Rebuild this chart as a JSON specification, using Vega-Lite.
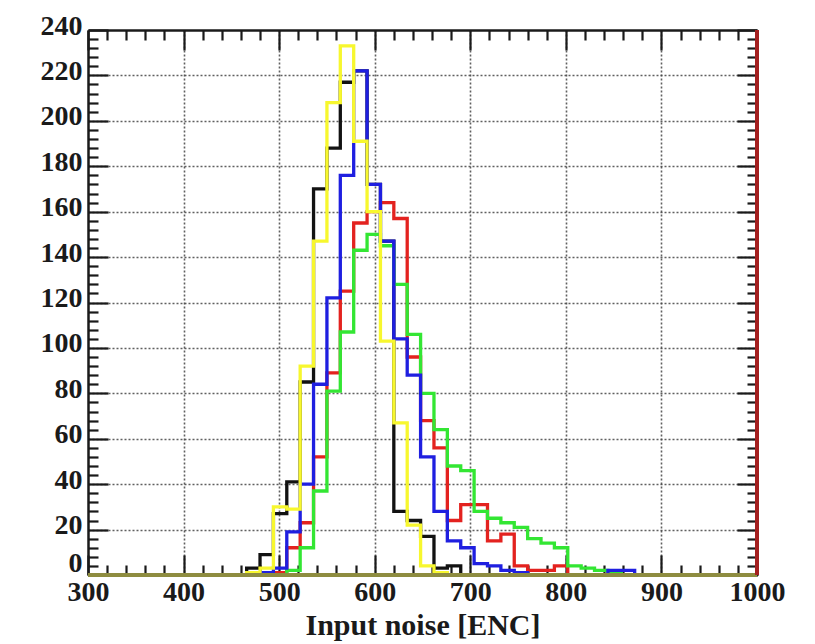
{
  "$schema": "https://vega.github.io/schema/vega-lite/v6.json",
  "width": 669,
  "height": 545,
  "autosize": {"type": "none"},
  "padding": {"left": 88, "top": 30, "right": 58, "bottom": 69},
  "background": "white",
  "config": {"view": {"stroke": null}, "font": "Liberation Serif"},
  "datasets": {
    "h": [
      {"s":"black","x":438,"n":0},{"s":"black","x":452,"n":0},{"s":"black","x":466,"n":3},{"s":"black","x":480,"n":9},{"s":"black","x":494,"n":27},{"s":"black","x":508,"n":41},{"s":"black","x":522,"n":85},{"s":"black","x":536,"n":170},{"s":"black","x":550,"n":188},{"s":"black","x":564,"n":217},{"s":"black","x":578,"n":222},{"s":"black","x":592,"n":172},{"s":"black","x":606,"n":147},{"s":"black","x":620,"n":28},{"s":"black","x":634,"n":24},{"s":"black","x":648,"n":17},{"s":"black","x":662,"n":3},{"s":"black","x":676,"n":4},{"s":"black","x":690,"n":0},{"s":"black","x":704,"n":0},
      {"s":"red","x":466,"n":0},{"s":"red","x":480,"n":0},{"s":"red","x":494,"n":1},{"s":"red","x":508,"n":12},{"s":"red","x":522,"n":23},{"s":"red","x":536,"n":52},{"s":"red","x":550,"n":89},{"s":"red","x":564,"n":125},{"s":"red","x":578,"n":155},{"s":"red","x":592,"n":160},{"s":"red","x":606,"n":164},{"s":"red","x":620,"n":157},{"s":"red","x":634,"n":96},{"s":"red","x":648,"n":68},{"s":"red","x":662,"n":56},{"s":"red","x":676,"n":24},{"s":"red","x":690,"n":31},{"s":"red","x":704,"n":31},{"s":"red","x":718,"n":15},{"s":"red","x":732,"n":18},{"s":"red","x":746,"n":4},{"s":"red","x":760,"n":2},{"s":"red","x":774,"n":2},{"s":"red","x":788,"n":4},{"s":"red","x":802,"n":0},{"s":"red","x":816,"n":0},
      {"s":"green","x":480,"n":0},{"s":"green","x":494,"n":0},{"s":"green","x":508,"n":2},{"s":"green","x":522,"n":12},{"s":"green","x":536,"n":37},{"s":"green","x":550,"n":81},{"s":"green","x":564,"n":107},{"s":"green","x":578,"n":143},{"s":"green","x":592,"n":150},{"s":"green","x":606,"n":145},{"s":"green","x":620,"n":128},{"s":"green","x":634,"n":106},{"s":"green","x":648,"n":80},{"s":"green","x":662,"n":64},{"s":"green","x":676,"n":48},{"s":"green","x":690,"n":46},{"s":"green","x":704,"n":28},{"s":"green","x":718,"n":25},{"s":"green","x":732,"n":23},{"s":"green","x":746,"n":21},{"s":"green","x":760,"n":16},{"s":"green","x":774,"n":14},{"s":"green","x":788,"n":12},{"s":"green","x":802,"n":4},{"s":"green","x":816,"n":3},{"s":"green","x":830,"n":2},{"s":"green","x":844,"n":1},{"s":"green","x":858,"n":0},{"s":"green","x":872,"n":0},
      {"s":"blue","x":452,"n":0},{"s":"blue","x":466,"n":0},{"s":"blue","x":480,"n":1},{"s":"blue","x":494,"n":3},{"s":"blue","x":508,"n":19},{"s":"blue","x":522,"n":40},{"s":"blue","x":536,"n":84},{"s":"blue","x":550,"n":122},{"s":"blue","x":564,"n":176},{"s":"blue","x":578,"n":222},{"s":"blue","x":592,"n":172},{"s":"blue","x":606,"n":147},{"s":"blue","x":620,"n":104},{"s":"blue","x":634,"n":88},{"s":"blue","x":648,"n":52},{"s":"blue","x":662,"n":28},{"s":"blue","x":676,"n":15},{"s":"blue","x":690,"n":12},{"s":"blue","x":704,"n":5},{"s":"blue","x":718,"n":4},{"s":"blue","x":732,"n":2},{"s":"blue","x":746,"n":1},{"s":"blue","x":760,"n":0},{"s":"blue","x":774,"n":0},{"s":"blue","x":788,"n":0},{"s":"blue","x":802,"n":0},{"s":"blue","x":816,"n":0},{"s":"blue","x":830,"n":0},{"s":"blue","x":844,"n":2},{"s":"blue","x":858,"n":2},{"s":"blue","x":872,"n":0},{"s":"blue","x":886,"n":0},
      {"s":"yellow","x":438,"n":0},{"s":"yellow","x":452,"n":0},{"s":"yellow","x":466,"n":1},{"s":"yellow","x":480,"n":3},{"s":"yellow","x":494,"n":30},{"s":"yellow","x":508,"n":29},{"s":"yellow","x":522,"n":92},{"s":"yellow","x":536,"n":147},{"s":"yellow","x":550,"n":208},{"s":"yellow","x":564,"n":233},{"s":"yellow","x":578,"n":191},{"s":"yellow","x":592,"n":160},{"s":"yellow","x":606,"n":103},{"s":"yellow","x":620,"n":67},{"s":"yellow","x":634,"n":22},{"s":"yellow","x":648,"n":4},{"s":"yellow","x":662,"n":1},{"s":"yellow","x":676,"n":0},{"s":"yellow","x":690,"n":0}
    ]
  },
  "data": {"name": "h"},
  "layer": [
    {
      "mark": {"type": "line", "interpolate": "step-after", "strokeWidth": 3.3, "clip": true},
      "encoding": {
        "x": {
          "field": "x", "type": "quantitative",
          "scale": {"domain": [300, 1000], "nice": false, "zero": false},
          "axis": {
            "orient": "bottom",
            "values": [300,320,340,360,380,400,420,440,460,480,500,520,540,560,580,600,620,640,660,680,700,720,740,760,780,800,820,840,860,880,900,920,940,960,980,1000],
            "format": "d",
            "labelExpr": "datum.value % 100 === 0 ? datum.label : ''",
            "labelFont": "Liberation Serif", "labelFontWeight": "bold", "labelFontSize": 28, "labelColor": "#1a1a1a",
            "labelFlush": false, "labelOverlap": false, "labelPadding": 23,
            "tickSize": {"condition": {"test": "datum.value % 100 === 0", "value": -20}, "value": -10},
            "tickColor": "#1a1a1a", "tickWidth": 2.2,
            "grid": true, "gridDash": [2, 2], "gridColor": "#444444", "gridWidth": 1.6,
            "gridOpacity": {"condition": {"test": "datum.value % 100 === 0 && datum.value > 300 && datum.value < 1000", "value": 0.85}, "value": 0},
            "domain": true, "domainColor": "#1a1a1a", "domainWidth": 2.5,
            "title": "Input noise [ENC]", "titleFont": "Liberation Serif", "titleFontWeight": "bold", "titleFontSize": 30, "titleColor": "#1a1a1a", "titlePadding": -6
          }
        },
        "y": {
          "field": "n", "type": "quantitative",
          "scale": {"domain": [0, 240], "nice": false},
          "axis": {
            "orient": "left",
            "values": [0,4,8,12,16,20,24,28,32,36,40,44,48,52,56,60,64,68,72,76,80,84,88,92,96,100,104,108,112,116,120,124,128,132,136,140,144,148,152,156,160,164,168,172,176,180,184,188,192,196,200,204,208,212,216,220,224,228,232,236,240],
            "format": "d",
            "labelExpr": "datum.value % 20 === 0 ? datum.label : ''",
            "labelFont": "Liberation Serif", "labelFontWeight": "bold", "labelFontSize": 28, "labelColor": "#1a1a1a",
            "labelFlush": false, "labelOverlap": false, "labelPadding": 26,
            "labelBaseline": {"condition": {"test": "datum.value === 0", "value": "bottom"}, "value": "middle"},
            "labelOffset": {"condition": {"test": "datum.value === 0", "value": 2}, "value": -4},
            "tickSize": {"condition": {"test": "datum.value % 20 === 0", "value": -20}, "value": -10},
            "tickColor": "#1a1a1a", "tickWidth": 2.2,
            "grid": true, "gridDash": [2, 2], "gridColor": "#444444", "gridWidth": 1.6,
            "gridOpacity": {"condition": {"test": "datum.value % 20 === 0 && datum.value > 0 && datum.value < 240", "value": 0.85}, "value": 0},
            "domain": true, "domainColor": "#1a1a1a", "domainWidth": 2.5,
            "title": null
          }
        },
        "color": {
          "field": "s", "type": "nominal",
          "scale": {"domain": ["black", "red", "green", "blue", "yellow"], "range": ["#121212", "#e3221f", "#33e633", "#1f1fe0", "#f7f72e"]},
          "legend": null
        }
      }
    },
    {
      "mark": {"type": "rule", "color": "#8e8c40", "strokeWidth": 3.5},
      "encoding": {
        "x": {"datum": 300, "type": "quantitative", "axis": null},
        "x2": {"datum": 1000},
        "y": {"datum": 0, "type": "quantitative", "axis": null}
      }
    },
    {
      "mark": {"type": "rule", "color": "#a52020", "strokeWidth": 2.5},
      "encoding": {
        "x": {"datum": 1000, "type": "quantitative", "axis": null},
        "y": {"datum": 0, "type": "quantitative", "axis": null},
        "y2": {"datum": 240}
      }
    },
    {
      "mark": {"type": "point", "opacity": 0},
      "encoding": {
        "x": {
          "field": "x", "type": "quantitative",
          "axis": {
            "orient": "top",
            "values": [300,320,340,360,380,400,420,440,460,480,500,520,540,560,580,600,620,640,660,680,700,720,740,760,780,800,820,840,860,880,900,920,940,960,980,1000],
            "labels": false, "grid": false, "title": null,
            "tickSize": {"condition": {"test": "datum.value % 100 === 0", "value": -20}, "value": -10},
            "tickColor": "#1a1a1a", "tickWidth": 2.2,
            "domain": true, "domainColor": "#1a1a1a", "domainWidth": 2.5
          }
        },
        "y": {
          "field": "n", "type": "quantitative",
          "axis": {
            "orient": "right",
            "values": [0,4,8,12,16,20,24,28,32,36,40,44,48,52,56,60,64,68,72,76,80,84,88,92,96,100,104,108,112,116,120,124,128,132,136,140,144,148,152,156,160,164,168,172,176,180,184,188,192,196,200,204,208,212,216,220,224,228,232,236,240],
            "labels": false, "grid": false, "title": null,
            "tickSize": {"condition": {"test": "datum.value % 20 === 0", "value": -20}, "value": -10},
            "tickColor": "#1a1a1a", "tickWidth": 2.2,
            "domain": true, "domainColor": "#1a1a1a", "domainWidth": 2.5
          }
        }
      }
    }
  ],
  "resolve": {"axis": {"x": "independent", "y": "independent"}}
}
